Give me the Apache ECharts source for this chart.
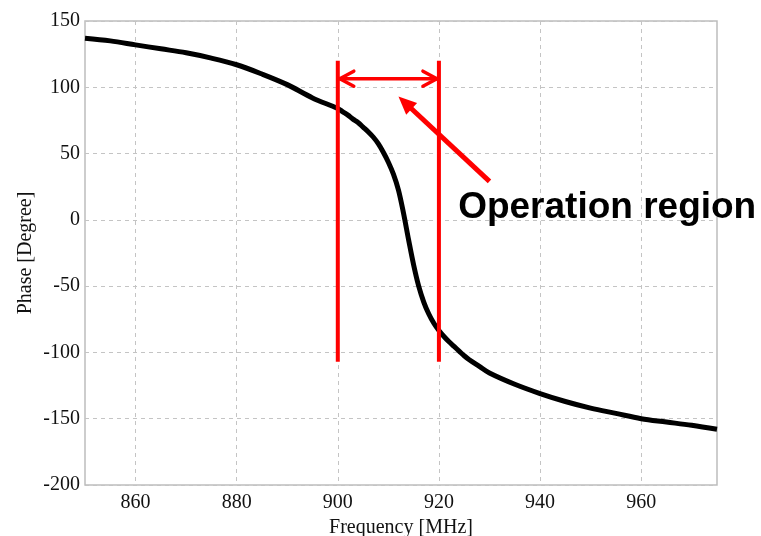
<!DOCTYPE html>
<html>
<head>
<meta charset="utf-8">
<script src="https://cdn.jsdelivr.net/npm/echarts@6/dist/echarts.min.js"></script>
<style>
  html, body { margin: 0; padding: 0; background: #ffffff; }
  #chart { width: 761px; height: 536px; }
</style>
</head>
<body>
<div id="chart"></div>
<script>
// Measured phase response of the resonator (MHz, degrees)
const frequency = [850, 855, 860, 865, 870, 875, 880, 885, 890, 895, 900, 901, 902, 903, 904, 905, 906, 907, 908, 909, 910, 911, 912, 913, 914, 915, 916, 917, 918, 919, 920, 921, 922, 923, 924, 925, 926, 928, 930, 935, 940, 945, 950, 955, 960, 965, 970, 975];
const phase = [137, 135, 132, 129, 126, 122, 117, 110, 102, 92, 84, 81.5, 79, 76, 73.5, 70, 66.5, 62.5, 57.5, 51, 43.5, 34.5, 22.5, 5, -15, -34, -50, -62, -71, -78, -83.5, -88, -92, -95.5, -99, -102.5, -105.5, -110.5, -115.5, -124, -131, -137, -142, -146, -150, -152.5, -155, -158];

// Axis ticks
const freqTicks = [860, 880, 900, 920, 940, 960];
const phaseTicks = [-200, -150, -100, -50, 0, 50, 100, 150];

// Operation region annotation (data coordinates)
const regionBounds = [900, 920];
const regionLineSpan = [-107, 120];
const regionArrowLevel = 106.5;
const pointerTail = [930, 29];
const pointerHead = [912, 93];
const noteText = 'Operation region';
const noteAnchor = [923.8, 9];

const chart = echarts.init(document.getElementById('chart'));

const serif = 'Liberation Serif, Times New Roman, serif';
const gridColor = '#c4c4c4';
const textColor = '#111111';
const red = '#ff0000';

function vLine(api, x, y0, y1) {
  const a = api.coord([x, y0]);
  const b = api.coord([x, y1]);
  return { type: 'line', shape: { x1: a[0], y1: a[1], x2: b[0], y2: b[1] },
           style: { stroke: red, lineWidth: 4 } };
}

function openHead(tip, dir, len, half) {
  // two arms of a V arrowhead pointing along dir
  const nx = -dir[1], ny = dir[0];
  const bx = tip[0] - dir[0] * len, by = tip[1] - dir[1] * len;
  return [
    { type: 'line', shape: { x1: tip[0], y1: tip[1], x2: bx + nx * half, y2: by + ny * half },
      style: { stroke: red, lineWidth: 3.5, lineCap: 'round' } },
    { type: 'line', shape: { x1: tip[0], y1: tip[1], x2: bx - nx * half, y2: by - ny * half },
      style: { stroke: red, lineWidth: 3.5, lineCap: 'round' } }
  ];
}

function renderNote(params, api) {
  const children = [];
  children.push(vLine(api, regionBounds[0], regionLineSpan[0], regionLineSpan[1]));
  children.push(vLine(api, regionBounds[1], regionLineSpan[0], regionLineSpan[1]));

  // double-headed span arrow
  const l = api.coord([regionBounds[0], regionArrowLevel]);
  const r = api.coord([regionBounds[1], regionArrowLevel]);
  l[0] += 2; r[0] -= 2;
  children.push({ type: 'line', shape: { x1: l[0], y1: l[1], x2: r[0], y2: r[1] },
                  style: { stroke: red, lineWidth: 3.5 } });
  children.push(...openHead(l, [-1, 0], 14, 7.5));
  children.push(...openHead(r, [1, 0], 14, 7.5));

  // pointer arrow with filled head
  const t = api.coord(pointerTail);
  const h = api.coord(pointerHead);
  const dx = h[0] - t[0], dy = h[1] - t[1];
  const d = Math.sqrt(dx * dx + dy * dy);
  const ux = dx / d, uy = dy / d;
  const headLen = 18, headHalf = 8;
  const bx = h[0] - ux * headLen, by = h[1] - uy * headLen;
  children.push({ type: 'line', shape: { x1: t[0], y1: t[1], x2: bx + ux * 2, y2: by + uy * 2 },
                  style: { stroke: red, lineWidth: 5 } });
  children.push({ type: 'polygon',
                  shape: { points: [[h[0], h[1]], [bx - uy * headHalf, by + ux * headHalf], [bx + uy * headHalf, by - ux * headHalf]] },
                  style: { fill: red } });

  // note text
  const p = api.coord(noteAnchor);
  children.push({ type: 'text',
                  style: { x: p[0], y: p[1], text: noteText, fill: '#000000',
                           fontFamily: '"Liberation Sans", Arial, sans-serif',
                           fontWeight: 'bold', fontSize: 37,
                           align: 'left', verticalAlign: 'middle' } });
  return { type: 'group', children: children };
}

chart.setOption({
  animation: false,
  backgroundColor: '#ffffff',
  grid: {
    left: 85, right: 44, top: 21, bottom: 51,
    outerBoundsMode: 'none',
    show: true, borderColor: '#bdbdbd', borderWidth: 1.5, backgroundColor: 'transparent'
  },
  xAxis: {
    type: 'value', min: 850, max: 975,
    name: 'Frequency [MHz]', nameLocation: 'middle', nameGap: 30,
    nameTextStyle: { fontFamily: serif, fontSize: 20, color: textColor },
    axisLine: { show: false },
    axisTick: { show: false, customValues: freqTicks },
    axisLabel: { customValues: freqTicks, margin: 8, fontFamily: serif, fontSize: 20, color: textColor },
    splitLine: { show: true, lineStyle: { color: gridColor, type: [4, 4], width: 1 } }
  },
  yAxis: {
    type: 'value', min: -200, max: 150, interval: 50,
    name: 'Phase [Degree]', nameLocation: 'middle', nameGap: 49, nameMoveOverlap: false,
    nameTextStyle: { fontFamily: serif, fontSize: 20, color: textColor },
    axisLine: { show: false },
    axisTick: { show: false },
    axisLabel: { margin: 5, fontFamily: serif, fontSize: 20, color: textColor },
    splitLine: { show: true, lineStyle: { color: gridColor, type: [4, 4], width: 1 } }
  },
  series: [
    {
      type: 'line',
      data: frequency.map((f, i) => [f, phase[i]]),
      symbol: 'none',
      smooth: 0.35,
      lineStyle: { color: '#000000', width: 5 },
      z: 3
    },
    {
      type: 'custom',
      data: [[regionBounds[0], 0]],
      renderItem: renderNote,
      clip: false,
      silent: true,
      z: 5
    }
  ]
});
</script>
</body>
</html>
